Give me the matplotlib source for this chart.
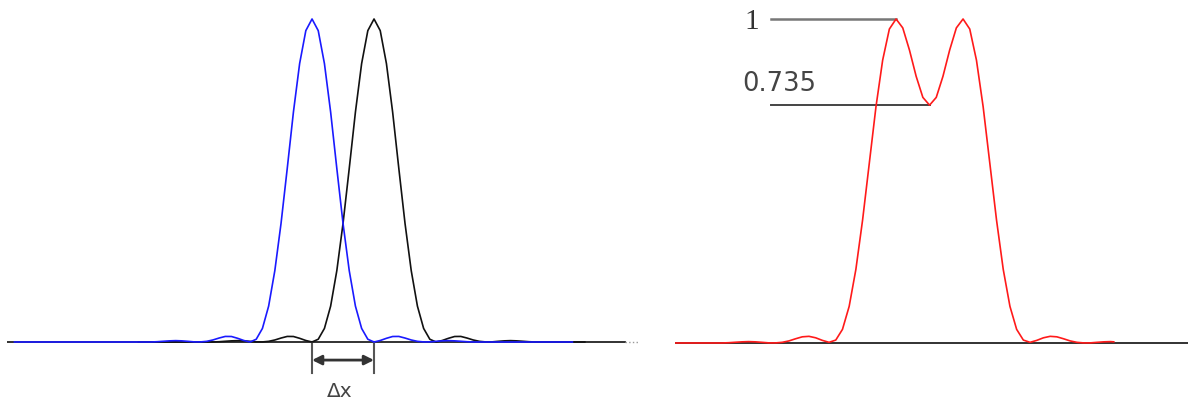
import numpy as np
import matplotlib
matplotlib.use("Agg")
import matplotlib.pyplot as plt

# single point-spread profile, offset from its peak, in units of dx
profile_offset = [-2.6, -2.5, -2.4, -2.3, -2.2, -2.1, -2.0, -1.9, -1.8, -1.7, -1.6, -1.5, -1.4,
                  -1.3, -1.2, -1.1, -1.0, -0.9, -0.8, -0.7, -0.6, -0.5, -0.4, -0.3, -0.2, -0.1,
                  0.0, 0.1, 0.2, 0.3, 0.4, 0.5, 0.6, 0.7, 0.8, 0.9, 1.0, 1.1, 1.2, 1.3, 1.4,
                  1.5, 1.6, 1.7, 1.8, 1.9, 2.0, 2.1, 2.2, 2.3, 2.4, 2.5, 2.6]
profile_int = [0.0, 0.0008, 0.0022, 0.0035, 0.0042, 0.0035, 0.002, 0.0003, 0.0002, 0.002, 0.0062,
               0.0122, 0.0172, 0.017, 0.0114, 0.0046, 0.0, 0.0085, 0.042, 0.111, 0.221, 0.367,
               0.537, 0.712, 0.862, 0.964, 1.0, 0.964, 0.862, 0.712, 0.537, 0.367, 0.221, 0.111,
               0.042, 0.0085, 0.0, 0.0046, 0.0114, 0.017, 0.0172, 0.0122, 0.0062, 0.002, 0.0002,
               0.0003, 0.002, 0.0035, 0.0042, 0.0035, 0.0022, 0.0008, 0.0]
blue_center = 0.0
black_center = 1.0
blue_span = (-4.8, 4.2)
black_span = (-2.8, 4.4)

# summed intensity (right panel)
red_pos = [-3.3, -2.6, -2.5, -2.4, -2.3, -2.2, -2.1, -2.0, -1.9, -1.8, -1.7, -1.6, -1.5, -1.4,
           -1.3, -1.2, -1.1, -1.0, -0.9, -0.8, -0.7, -0.6, -0.5, -0.4, -0.3, -0.2, -0.1, 0.0,
           0.1, 0.2, 0.3, 0.4, 0.5, 0.6, 0.7, 0.8, 0.9, 1.0, 1.1, 1.2, 1.3, 1.4, 1.5, 1.6, 1.7,
           1.8, 1.9, 2.0, 2.1, 2.2, 2.3, 2.4, 2.5, 2.6, 2.7, 2.8, 2.9, 3.0, 3.1, 3.2, 3.25]
red_int = [0.0, 0.0, 0.0008, 0.0022, 0.0035, 0.0042, 0.0035, 0.002, 0.0003, 0.0002, 0.002,
           0.0063, 0.013, 0.019, 0.0205, 0.016, 0.008, 0.002, 0.009, 0.042, 0.113, 0.227,
           0.379, 0.554, 0.729, 0.873, 0.969, 1.0, 0.9725, 0.904, 0.823, 0.758, 0.734, 0.758,
           0.823, 0.904, 0.9725, 1.0, 0.969, 0.873, 0.729, 0.554, 0.379, 0.227, 0.113, 0.042,
           0.009, 0.002, 0.008, 0.016, 0.0205, 0.019, 0.013, 0.0063, 0.002, 0.0002, 0.0003,
           0.002, 0.0035, 0.0042, 0.0035]
peak_value = 1.0
dip_value = 0.735
dip_pos = 0.5
label_peak = "1"
label_dip = "0.735"
label_dx = "Δx"


def shifted(center, span):
    xs = [span[0]] + [center + o for o in profile_offset] + [span[1]]
    ys = [0.0] + profile_int + [0.0]
    return xs, ys


fig = plt.figure(figsize=(11.88, 4.0), dpi=100)

# left panel: two separate images
ax1 = fig.add_axes([7 / 1188, 0, 633 / 1188, 1])
ax1.set_xlim(-4.92, 5.29)
ax1.set_ylim(-0.1796, 1.0588)
ax1.axis("off")
ax1.plot([-4.92, 5.05], [0, 0], color="#222222", lw=1.3, zorder=1)
ax1.plot([5.05, 5.29], [0, 0], color="#999999", lw=1.0, ls=":", zorder=1)
bx, by = shifted(blue_center, blue_span)
kx, ky = shifted(black_center, black_span)
ax1.plot(kx, ky, color="#111111", lw=1.2, zorder=2)
ax1.plot(bx, by, color="#1a1aff", lw=1.2, zorder=3)

# dx marker
for xv in (blue_center, black_center):
    ax1.plot([xv, xv], [0, -0.096], color="#555555", lw=1.5, zorder=1)
ax1.annotate("", xy=(black_center, -0.056), xytext=(blue_center, -0.056),
             arrowprops=dict(arrowstyle="<|-|>", color="#333333", lw=2,
                             shrinkA=0, shrinkB=0, mutation_scale=14))
ax1.text(0.45, -0.152, label_dx, ha="center", va="center", fontsize=14.5,
         color="#444444", family="DejaVu Sans")

# right panel: summed intensity
ax2 = fig.add_axes([675 / 1188, 0, 513 / 1188, 1])
ax2.set_xlim(-3.3, 4.358)
ax2.set_ylim(-0.176, 1.0586)
ax2.axis("off")
ax2.axhline(0, color="#222222", lw=1.3, zorder=1)
ax2.plot(red_pos, red_int, color="#ff1a1a", lw=1.2, zorder=3)

ax2.plot([-1.866, 0.0], [peak_value, peak_value], color="#777777", lw=1.8, zorder=2)
ax2.plot([-1.866, dip_pos], [dip_value, dip_value], color="#444444", lw=1.4, zorder=2)
ax2.text(-2.15, 0.99, label_peak, ha="center", va="center", fontsize=21,
         color="#333333", family="Liberation Serif")
ax2.text(-1.75, 0.8, label_dip, ha="center", va="center", fontsize=18.5,
         color="#444444", family="DejaVu Sans")

fig.savefig("out.png", dpi=100)
